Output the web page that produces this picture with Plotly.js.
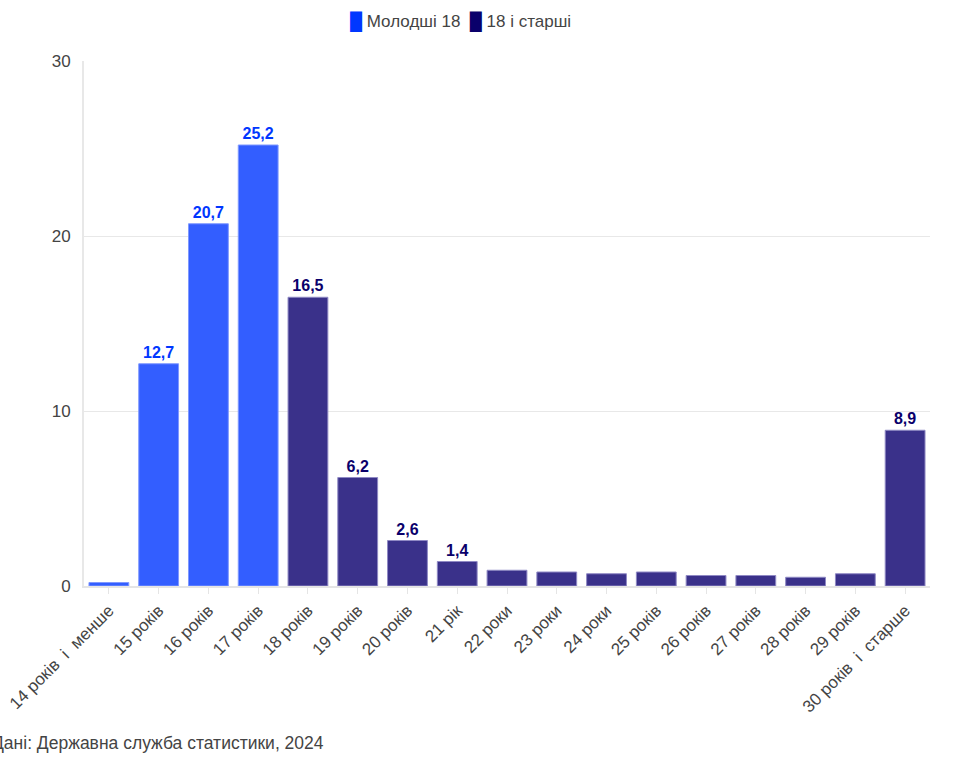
<!DOCTYPE html>
<html>
<head>
<meta charset="utf-8">
<script src="https://cdn.plot.ly/plotly-3.0.1.min.js"></script>
<style>html,body{margin:0;padding:0;background:#fff;}#chart{width:953px;height:763px;}</style>
</head>
<body>
<div id="chart"></div>
<script>
const youngCategories = ["14 років  і  менше", "15 років", "16 років", "17 років"];
const youngValues = [0.2, 12.7, 20.7, 25.2];
const olderCategories = ["18 років", "19 років", "20 років", "21 рік", "22 роки", "23 роки", "24 роки", "25 років", "26 років", "27 років", "28 років", "29 років", "30 років  і  старше"];
const olderValues = [16.5, 6.2, 2.6, 1.4, 0.9, 0.8, 0.7, 0.8, 0.6, 0.6, 0.5, 0.7, 8.9];
const seriesNames = ["Молодші 18", "18 і старші"];
const seriesColors = ["#0037ff", "#0a006b"];
const yTicks = [0, 10, 20, 30];
const sourceText = "Дані: Державна служба статистики, 2024";

function labels(vals){ return vals.map(v => v > 1 ? v.toFixed(1).replace('.', ',') : ''); }

const allCats = youngCategories.concat(olderCategories);

const traces = [
  {
    type: 'bar', name: seriesNames[0], x: youngCategories, y: youngValues,
    text: labels(youngValues), textposition: 'outside', cliponaxis: false,
    textfont: {color: seriesColors[0], size: 16, family: 'Liberation Sans, Arial, sans-serif', weight: 'bold'},
    marker: {color: '#335eff', line: {color: '#7f98ff', width: 1}},
    hoverinfo: 'x+y', showlegend: false
  },
  {
    type: 'bar', name: seriesNames[1], x: olderCategories, y: olderValues,
    text: labels(olderValues), textposition: 'outside', cliponaxis: false,
    textfont: {color: seriesColors[1], size: 16, family: 'Liberation Sans, Arial, sans-serif', weight: 'bold'},
    marker: {color: '#3a318a', line: {color: '#8f89c4', width: 1}},
    hoverinfo: 'x+y', showlegend: false
  }
];

const legendText = seriesNames.map((n, i) =>
  '<span style="color:' + seriesColors[i] + '">█</span> ' + n).join('  ');

const layout = {
  width: 953, height: 763,
  margin: {l: 84, r: 23, t: 61, b: 177},
  paper_bgcolor: '#fff', plot_bgcolor: '#fff',
  font: {family: 'Liberation Sans, Arial, sans-serif', size: 16, color: '#444'},
  barmode: 'overlay', bargap: 0.2,
  separators: ', ',
  showlegend: false,
  xaxis: {
    type: 'category', categoryorder: 'array', categoryarray: allCats,
    tickangle: -45, ticks: 'outside', ticklen: 6, tickcolor: '#e5e5e5',
    showgrid: false, showline: true, linecolor: '#e5e5e5', linewidth: 2,
    tickfont: {size: 17, color: '#444'}, automargin: false
  },
  yaxis: {
    range: [0, 30], tickvals: yTicks, ticktext: yTicks.map(String),
    showgrid: true, gridcolor: '#e8e8e8', gridwidth: 1,
    zeroline: false, showline: true, linecolor: '#e8e8e8', linewidth: 2,
    ticks: 'outside', ticklen: 8, tickcolor: '#fff',
    tickfont: {size: 17, color: '#444'}, automargin: false
  },
  annotations: [
    {
      text: legendText, xref: 'paper', yref: 'paper', x: 0.4456, y: 1.074,
      xanchor: 'center', yanchor: 'middle', showarrow: false,
      font: {size: 17, color: '#444'}
    },
    {
      text: sourceText, xref: 'paper', yref: 'paper', x: -0.1108, y: -0.299,
      xanchor: 'left', yanchor: 'middle', showarrow: false,
      font: {size: 17.5, color: '#444'}
    }
  ]
};

Plotly.newPlot('chart', traces, layout, {displayModeBar: false, responsive: false});
</script>
</body>
</html>
